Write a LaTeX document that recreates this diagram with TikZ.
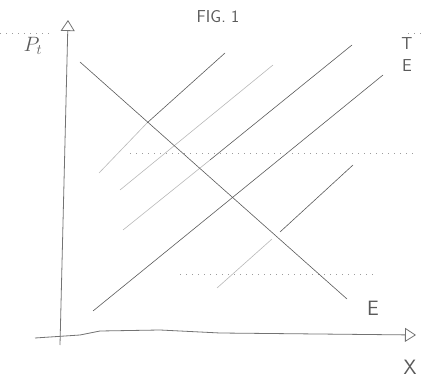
\documentclass[tikz,border=0pt]{standalone}
\usetikzlibrary{arrows.meta}
\definecolor{lapiz}{HTML}{5A5A5A}
\definecolor{tenue}{HTML}{B8B8B8}
\definecolor{punto}{HTML}{9C9C9C}

\begin{document}
\begin{tikzpicture}[x=1pt,y=-1pt]
  \tikzset{
    eje/.style={draw=lapiz!85,line width=0.8pt,-{Triangle[open,length=11pt,width=14pt]}},
    recta/.style={draw=lapiz,line width=0.6pt},
    suave/.style={draw=tenue,line width=0.6pt},
    guia/.style={draw=punto,line width=0.7pt,dash pattern=on 1pt off 5pt},
    rotulo/.style={text=lapiz,font=\sffamily\huge,inner sep=0pt}
  }
  \useasboundingbox (0,0) rectangle (421,385);
  \coordinate (o) at (60,345);
  \coordinate (ytop) at (68,20);
  \coordinate (xizq) at (35,338);
  \coordinate (xder) at (416,335);
  \coordinate (d1) at (80,62);
  \coordinate (d2) at (347,299);
  \coordinate (a1) at (99,173);
  \coordinate (a2) at (147,123);
  \coordinate (a3) at (225,53);
  \coordinate (b1) at (120,190);
  \coordinate (b2) at (273,65);
  \coordinate (c1) at (93,311);
  \coordinate (c2) at (383,75);
  \coordinate (e1) at (123,230);
  \coordinate (e2) at (210,160);
  \coordinate (e3) at (352,45);
  \coordinate (f1) at (217,288);
  \coordinate (f2) at (272,239);
  \coordinate (f3) at (280,232);
  \coordinate (f4) at (353,165);
  \coordinate (g1) at (130,153);
  \coordinate (g2) at (415,153);
  \coordinate (h1) at (180,274);
  \coordinate (h2) at (373,274);
  \coordinate (k1) at (0,33);
  \coordinate (k2) at (50,33);
  \coordinate (k3) at (408,33);
  \coordinate (k4) at (421,33);
  \draw[eje] (o) -- (ytop);
  \draw[eje] (xizq) -- (80,335) -- (100,331) -- (160,330) -- (220,333) -- (xder);
  \draw[guia] (k1) -- (k2);
  \draw[guia] (k3) -- (k4);
  \draw[guia] (g1) -- (g2);
  \draw[guia] (h1) -- (h2);
  \draw[suave] (a1) -- (a2);
  \draw[recta] (a2) -- (a3);
  \draw[suave] (b1) -- (b2);
  \draw[recta] (c1) -- (c2);
  \draw[suave] (e1) -- (e2);
  \draw[recta] (e2) -- (e3);
  \draw[suave] (f1) -- (f2);
  \draw[recta] (f3) -- (f4);
  \draw[recta] (d1) -- (d2);
  \node[rotulo] (pt) at (33,46) {$P_{t}$};
  \node[rotulo,font=\sffamily\LARGE] (fig) at (218,17) {FIG. 1};
  \node[rotulo,align=center,font=\sffamily\LARGE] (te) at (407,55) {T\\E};
  \node[rotulo] (ee) at (373,308) {E};
  \node[rotulo] (xx) at (410,367) {X};
\end{tikzpicture}
\end{document}
